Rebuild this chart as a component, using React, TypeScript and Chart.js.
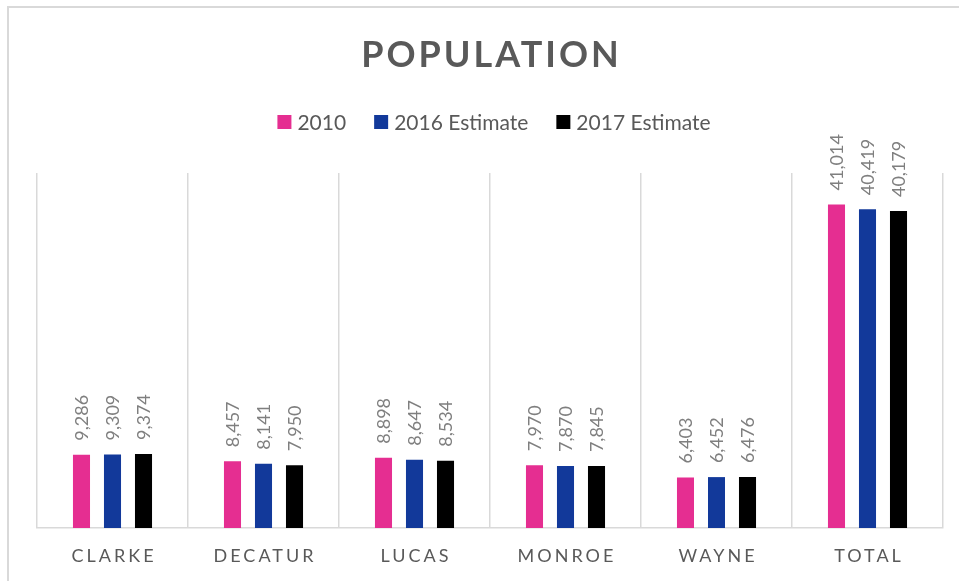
import React, { useEffect, useRef } from "react";
import { Chart, registerables } from "chart.js";

Chart.register(...registerables);

const categories = ["CLARKE", "DECATUR", "LUCAS", "MONROE", "WAYNE", "TOTAL"];
const seriesNames = ["2010", "2016 Estimate", "2017 Estimate"];
const values2010 = [9286, 8457, 8898, 7970, 6403, 41014];
const values2016 = [9309, 8141, 8647, 7870, 6452, 40419];
const values2017 = [9374, 7950, 8534, 7845, 6476, 40179];
const seriesColors = ["#E52E91", "#12399A", "#000000"];
const titleText = "POPULATION";
const yMax = 45000;

const FONT = "Lato, 'Open Sans', sans-serif";

const drawPlugin = {
  id: "customText",
  afterDraw(chart: any) {
    const ctx = chart.ctx as CanvasRenderingContext2D;
    const area = chart.chartArea;
    const cx = (area.left + area.right) / 2;

    // Title
    ctx.save();
    ctx.font = `bold 36px ${FONT}`;
    (ctx as any).letterSpacing = "3px";
    ctx.fillStyle = "#595959";
    ctx.textBaseline = "middle";
    ctx.textAlign = "left";
    const tw = ctx.measureText(titleText).width - 3;
    ctx.fillText(titleText, cx - tw / 2, 55);
    ctx.restore();

    // Legend
    ctx.save();
    ctx.font = `21px ${FONT}`;
    ctx.textBaseline = "middle";
    ctx.textAlign = "left";
    const box = 14;
    const gapText = 6;
    const gapItem = 28;
    const widths = seriesNames.map((n) => ctx.measureText(n).width);
    const total =
      widths.reduce((a, w) => a + box + gapText + w, 0) + gapItem * (seriesNames.length - 1);
    let x = cx + 4 - total / 2;
    const ly = 122;
    seriesNames.forEach((n, i) => {
      ctx.fillStyle = seriesColors[i];
      ctx.fillRect(x, ly - box / 2, box, box);
      ctx.fillStyle = "#595959";
      ctx.fillText(n, x + box + gapText, ly + 1);
      x += box + gapText + widths[i] + gapItem;
    });
    ctx.restore();

    // X labels
    const xs = chart.scales.x;
    ctx.save();
    ctx.font = `18px ${FONT}`;
    (ctx as any).letterSpacing = "3px";
    ctx.fillStyle = "#595959";
    ctx.textBaseline = "middle";
    ctx.textAlign = "left";
    categories.forEach((c, i) => {
      const px = xs.getPixelForValue(i);
      const w = ctx.measureText(c).width - 3;
      ctx.fillText(c, px - w / 2, 556);
    });
    ctx.restore();

    // Data labels
    ctx.save();
    ctx.font = `18px ${FONT}`;
    ctx.fillStyle = "#7F7F7F";
    ctx.textBaseline = "middle";
    ctx.textAlign = "left";
    chart.data.datasets.forEach((ds: any, di: number) => {
      const meta = chart.getDatasetMeta(di);
      meta.data.forEach((el: any, i: number) => {
        const v = ds.data[i] as number;
        ctx.save();
        ctx.translate(el.x + 1, el.y - 14);
        ctx.rotate(-Math.PI / 2);
        ctx.fillText(v.toLocaleString("en-US"), 0, 0);
        ctx.restore();
      });
    });
    ctx.restore();
  },
};

export default function App() {
  const ref = useRef<HTMLCanvasElement | null>(null);

  useEffect(() => {
    if (!ref.current) return;
    const chart = new Chart(ref.current, {
      type: "bar",
      data: {
        labels: categories,
        datasets: [values2010, values2016, values2017].map((d, i) => ({
          label: seriesNames[i],
          data: d,
          backgroundColor: seriesColors[i],
          categoryPercentage: 0.616,
          barPercentage: 0.55,
        })),
      },
      options: {
        animation: false,
        responsive: false,
        layout: { padding: { left: 37, right: 16, top: 173, bottom: 53 } },
        plugins: {
          legend: { display: false },
          title: { display: false },
          tooltip: { enabled: false },
        },
        scales: {
          x: {
            type: "category",
            offset: true,
            grid: {
              offset: true,
              color: "#D9D9D9",
              lineWidth: 1.5,
              drawTicks: false,
            },
            border: { color: "#D9D9D9", width: 1.5 },
            ticks: { display: false },
          },
          y: {
            display: false,
            min: 0,
            max: yMax,
          },
        },
      },
      plugins: [drawPlugin],
    });
    return () => chart.destroy();
  }, []);

  return (
    <div
      style={{
        position: "fixed",
        left: 0,
        top: 0,
        width: 959,
        height: 581,
        overflow: "hidden",
        background: "#fff",
      }}
    >
      <canvas ref={ref} width={959} height={581} style={{ position: "absolute", left: 0, top: 0 }} />
      <div
        style={{
          position: "absolute",
          left: 7,
          top: 6,
          width: 1100,
          height: 1100,
          border: "2px solid #D9D9D9",
          pointerEvents: "none",
        }}
      />
    </div>
  );
}
